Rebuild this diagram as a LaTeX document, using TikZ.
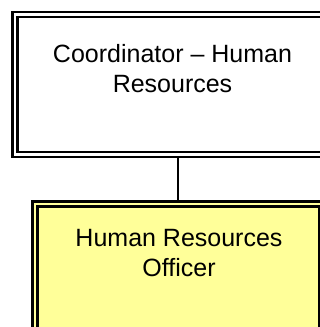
\documentclass[tikz,border=0pt]{standalone}
\usepackage{fontspec}
\setmainfont{Liberation Sans}
\definecolor{boxyellow}{HTML}{FFFF99}
\tikzset{
  dbox/.style={draw=black, line width=2.2pt, double distance=2.8pt, rectangle, inner sep=0pt, outer sep=3.6pt},
  txt/.style={font=\fontsize{25}{30}\selectfont, align=center, inner sep=0pt},
  conn/.style={draw=black, line width=2pt}
}
\begin{document}
\begin{tikzpicture}[x=1pt,y=-1pt]
\useasboundingbox[fill=white] (0,0) rectangle (320,327);
\clip (0,0) rectangle (320,327);
\node[dbox, double=white, fill=white, minimum width=316pt, minimum height=140pt] (top) at (173,84.5) {};
\node[dbox, double=boxyellow, fill=boxyellow, minimum width=286.5pt, minimum height=196pt] (bot) at (178.25,302) {};
\draw[conn] (bot.north) -- (bot.north |- top.south);
\node[txt, anchor=base] (toptext) at (172.5,92) {Coordinator – Human\\Resources};
\node[txt, anchor=base] (bottext) at (179,276) {Human Resources\\Officer};
\end{tikzpicture}
\end{document}
